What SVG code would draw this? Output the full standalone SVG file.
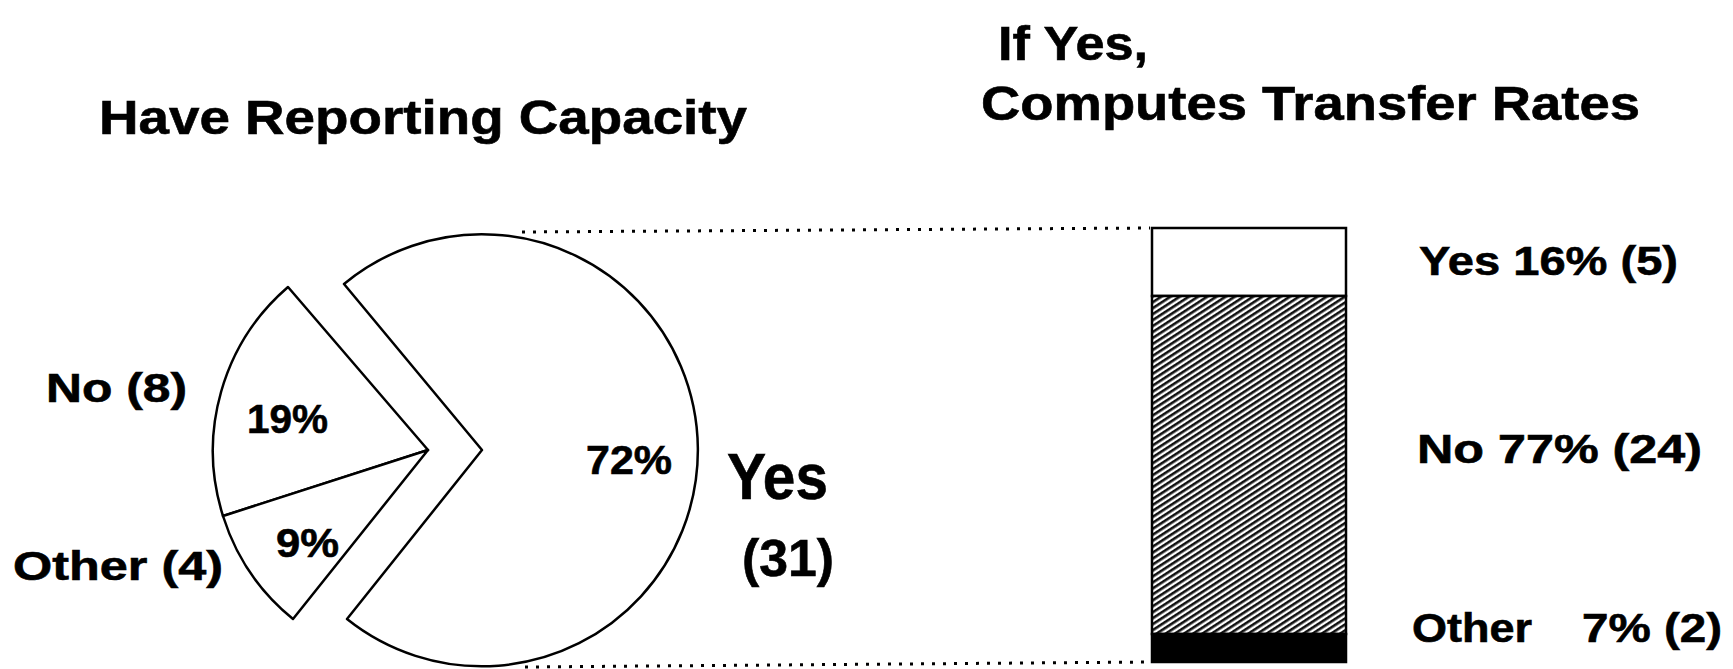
<svg xmlns="http://www.w3.org/2000/svg" width="1733" height="669" viewBox="0 0 1733 669">
<defs>
<pattern id="hatch" patternUnits="userSpaceOnUse" width="5" height="5" patternTransform="rotate(-33)">
<rect width="5" height="5" fill="#fff"/>
<rect y="0" width="5" height="2.6" fill="#111"/>
</pattern>
</defs>
<style>
.t{font-family:"Liberation Sans",Arial,sans-serif;font-weight:bold;fill:#000;stroke:#000;stroke-width:0.6}
.title{font-size:48px}
.lbl{font-size:40px}
.slice{fill:#fff;stroke:#000;stroke-width:2.5;stroke-linejoin:round}
.dot{fill:none;stroke:#000;stroke-width:3;stroke-dasharray:3 8}
</style>
<rect width="1733" height="669" fill="#fff"/>
<g id="titles">
<text class="t title" x="99" y="134" textLength="648" lengthAdjust="spacingAndGlyphs">Have Reporting Capacity</text>
<text class="t title" x="998" y="60" textLength="150" lengthAdjust="spacingAndGlyphs">If Yes,</text>
<text class="t title" x="981" y="120" textLength="659" lengthAdjust="spacingAndGlyphs">Computes Transfer Rates</text>
</g>
<g id="connectors">
<path class="dot" d="M522 232 L1150 228"/>
<path class="dot" d="M525 667 L1150 662"/>
</g>
<g id="pie-yes">
<path class="slice" d="M482 450 L344 284 A216 216 0 1 1 347 619 Z"/>
<text class="t lbl" x="586" y="474" textLength="86" lengthAdjust="spacingAndGlyphs">72%</text>
<text class="t" x="727" y="499" font-size="64" textLength="101" lengthAdjust="spacingAndGlyphs">Yes</text>
<text class="t" x="742" y="576" font-size="52" textLength="92" lengthAdjust="spacingAndGlyphs">(31)</text>
</g>
<g id="pie-no">
<path class="slice" d="M428 450 L288 287 A216 216 0 0 0 223 516 Z"/>
<text class="t lbl" x="247" y="433" textLength="81" lengthAdjust="spacingAndGlyphs">19%</text>
<text class="t lbl" x="46" y="402" textLength="141" lengthAdjust="spacingAndGlyphs">No (8)</text>
</g>
<g id="pie-other">
<path class="slice" d="M428 450 L223 516 A216 216 0 0 0 293 619 Z"/>
<text class="t lbl" x="276" y="557" textLength="63" lengthAdjust="spacingAndGlyphs">9%</text>
<text class="t lbl" x="13" y="580" textLength="210" lengthAdjust="spacingAndGlyphs">Other (4)</text>
</g>
<g id="bar-yes">
<rect x="1152" y="228" width="194" height="68" fill="#fff" stroke="#000" stroke-width="2.5"/>
<text class="t lbl" x="1419" y="275" textLength="259" lengthAdjust="spacingAndGlyphs">Yes 16% (5)</text>
</g>
<g id="bar-no">
<rect x="1152" y="296" width="194" height="338" fill="url(#hatch)" stroke="#000" stroke-width="2.5"/>
<text class="t lbl" x="1417" y="463" textLength="285" lengthAdjust="spacingAndGlyphs">No 77% (24)</text>
</g>
<g id="bar-other">
<rect x="1152" y="634" width="194" height="28" fill="#000" stroke="#000" stroke-width="2.5"/>
<text class="t lbl" x="1412" y="642" textLength="120" lengthAdjust="spacingAndGlyphs">Other</text>
<text class="t lbl" x="1582" y="642" textLength="140" lengthAdjust="spacingAndGlyphs">7% (2)</text>
</g>
</svg>
